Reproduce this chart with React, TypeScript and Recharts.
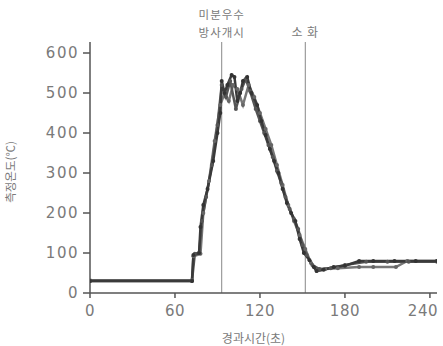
import React from "react";
import { LineChart, Line, XAxis, YAxis, ReferenceLine, Label } from "recharts";

const timeA = [0, 72, 73, 77, 78, 80, 83, 87, 90, 92, 93, 95, 97, 100, 102, 104, 106, 108, 111, 114, 118, 121, 124, 127, 130, 133, 136, 139, 142, 145, 148, 151, 155, 158, 160, 165, 172, 180, 190, 200, 215, 230, 245];
const tempA = [30, 30, 95, 100, 165, 220, 260, 330, 400, 450, 530, 500, 520, 545, 540, 480, 500, 530, 540, 500, 470, 430, 395, 360, 330, 300, 260, 225, 200, 180, 135, 100, 82, 65, 55, 58, 65, 68, 80, 80, 80, 80, 80];

const timeB = [0, 72, 73, 78, 80, 84, 88, 92, 95, 98, 101, 104, 108, 112, 116, 120, 124, 128, 132, 136, 140, 144, 148, 152, 156, 160, 166, 175, 190, 200, 216, 224, 245];
const tempB = [32, 32, 92, 98, 200, 280, 380, 470, 500, 480, 520, 510, 470, 520, 490, 450, 410, 370, 320, 270, 220, 180, 145, 110, 75, 55, 60, 62, 65, 65, 65, 80, 80];

const timeC = [0, 72, 74, 77, 79, 82, 86, 90, 93, 96, 99, 103, 107, 110, 113, 117, 120, 123, 126, 129, 132, 135, 138, 141, 144, 147, 150, 153, 157, 162, 170, 180, 195, 210, 225, 245];
const tempC = [30, 30, 98, 100, 180, 240, 320, 420, 520, 490, 530, 460, 510, 535, 505, 460, 430, 400, 370, 340, 305, 275, 240, 210, 185, 160, 120, 95, 70, 60, 62, 70, 78, 78, 78, 78];

const xTicks = [0, 60, 120, 180, 240];
const yTicks = [0, 100, 200, 300, 400, 500, 600];
const sprayTime = 93;
const extinguishTime = 152;
const sprayLabel = ["미분우수", "방사개시"];
const extinguishLabel = "소 화";
const xTitle = "경과시간(초)";
const yTitle = "측정온도(℃)";

const toRows = (ts: number[], vs: number[]) => ts.map((t, i) => ({ t, v: vs[i] }));
const seriesA = toRows(timeA, tempA);
const seriesB = toRows(timeB, tempB);
const seriesC = toRows(timeC, tempC);

const numFont = "'DejaVu Sans', sans-serif";
const krFont = "'Noto Sans CJK KR', sans-serif";
const textGray = "#7a7a7a";

const SprayLabel = (props: any) => {
  const vb = props.viewBox || {};
  const x = vb.x;
  return (
    <g>
      <text x={x} y={19} textAnchor="middle" fontFamily={krFont} fontSize={11.5} fill={textGray} letterSpacing={1}>{sprayLabel[0]}</text>
      <text x={x} y={37} textAnchor="middle" fontFamily={krFont} fontSize={11.5} fill={textGray} letterSpacing={1}>{sprayLabel[1]}</text>
    </g>
  );
};

const ExtLabel = (props: any) => {
  const vb = props.viewBox || {};
  return (
    <text x={vb.x} y={37} textAnchor="middle" fontFamily={krFont} fontSize={12} fill={textGray} letterSpacing={1}>{extinguishLabel}</text>
  );
};

const XTitle = (props: any) => {
  const vb = props.viewBox || {};
  return (
    <text x={vb.x + vb.width / 2 - 10} y={343} textAnchor="middle" fontFamily={krFont} fontSize={12} fill={textGray}>{xTitle}</text>
  );
};

const YTitle = () => (
  <text x={0} y={0} transform="translate(15,172) rotate(-90)" textAnchor="middle" fontFamily={krFont} fontSize={11.5} fill={textGray}>{yTitle}</text>
);

const XTick = (props: any) => {
  const { x, y, payload, index } = props;
  const last = index === xTicks.length - 1;
  return (
    <text x={last ? x - 7 : x} y={y} dy="0.71em" textAnchor="middle" fontFamily={numFont} fontSize={15} fill={textGray} letterSpacing={0.5}>
      {payload.value}
    </text>
  );
};

export default function App() {
  return (
    <div style={{ position: "absolute", left: 0, top: 0, background: "#fff" }}>
      <LineChart width={443} height={346} margin={{ top: 42, right: 6, bottom: 0, left: 0 }}>
        <XAxis
          type="number"
          dataKey="t"
          domain={[0, 245]}
          ticks={xTicks}
          height={53}
          tick={<XTick />}
          tickSize={5}
          tickMargin={7}
          stroke="#555"
          strokeWidth={1.5}
          allowDuplicatedCategory={false}
          allowDataOverflow
        >
          <Label content={<XTitle />} />
        </XAxis>
        <YAxis
          type="number"
          domain={[0, 627.5]}
          ticks={yTicks}
          width={90}
          tick={{ fontFamily: numFont, fontSize: 15, fill: textGray, letterSpacing: 1.5 }}
          tickSize={7}
          tickMargin={4}
          stroke="#555"
          strokeWidth={1.5}
        >
          <Label content={<YTitle />} />
        </YAxis>
        <ReferenceLine x={sprayTime} stroke="#888" strokeWidth={1} label={<SprayLabel />} />
        <ReferenceLine x={extinguishTime} stroke="#888" strokeWidth={1} label={<ExtLabel />} />
        <Line data={seriesB} dataKey="v" type="linear" stroke="#777" strokeWidth={2.5} dot={{ r: 2, fill: "#666", stroke: "none" }} isAnimationActive={false} />
        <Line data={seriesC} dataKey="v" type="linear" stroke="#555" strokeWidth={2.5} dot={{ r: 2, fill: "#555", stroke: "none" }} isAnimationActive={false} />
        <Line data={seriesA} dataKey="v" type="linear" stroke="#3a3a3a" strokeWidth={2.5} dot={{ r: 2, fill: "#333", stroke: "none" }} isAnimationActive={false} />
      </LineChart>
    </div>
  );
}
